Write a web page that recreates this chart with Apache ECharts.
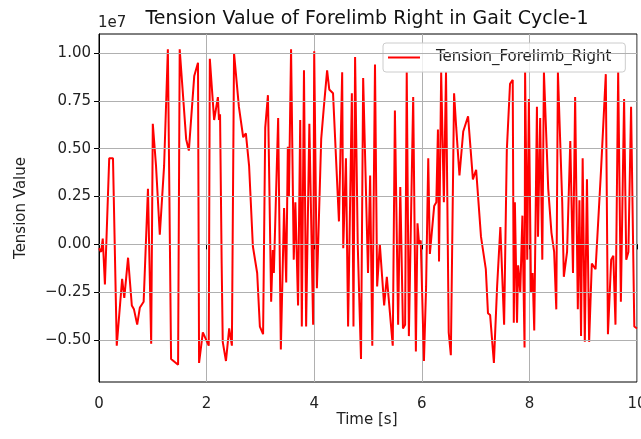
<!doctype html>
<html>
<head>
<meta charset="utf-8">
<title>Tension Value of Forelimb Right in Gait Cycle-1</title>
<style>
  html, body { margin: 0; padding: 0; background: #fff; }
  #main { width: 641px; height: 439px; }
</style>
</head>
<body>
<div id="main"></div>
<script src="https://cdn.jsdelivr.net/npm/echarts@6/dist/echarts.min.js"></script>
<script>
// time in seconds, tension in units of 1e7
var timeS = [
  0.00, 0.04, 0.07, 0.11, 0.19, 0.26, 0.33, 0.43, 0.47, 0.54, 0.61, 0.65, 0.71, 0.76, 0.83, 0.91, 0.97,
  1.00, 1.06, 1.13, 1.21, 1.28, 1.31, 1.34, 1.47, 1.50, 1.62, 1.67, 1.77, 1.84, 1.86, 1.93,
  2.04, 2.06, 2.14, 2.21, 2.23, 2.25, 2.28, 2.30, 2.36, 2.42, 2.47, 2.51, 2.60, 2.68, 2.73, 2.79, 2.86, 2.94, 2.99,
  3.05, 3.09, 3.14, 3.20, 3.23, 3.25, 3.33, 3.38, 3.44, 3.48, 3.51, 3.53, 3.57, 3.62, 3.65, 3.70, 3.74, 3.77, 3.81, 3.85, 3.91, 3.98,
  4.00, 4.05, 4.13, 4.18, 4.24, 4.28, 4.35, 4.46, 4.52, 4.54, 4.59, 4.63, 4.70, 4.73, 4.76, 4.81, 4.87, 4.91,
  5.00, 5.04, 5.08, 5.13, 5.17, 5.22, 5.30, 5.35, 5.46, 5.50, 5.56, 5.60, 5.65, 5.69, 5.72, 5.76, 5.84, 5.89, 5.92, 5.95, 5.98,
  6.04, 6.08, 6.12, 6.15, 6.23, 6.27, 6.30, 6.32, 6.36, 6.41, 6.45, 6.50, 6.54, 6.60, 6.64, 6.70, 6.77, 6.86, 6.95,
  7.01, 7.10, 7.19, 7.23, 7.27, 7.34, 7.40, 7.46, 7.53, 7.58, 7.64, 7.69, 7.71, 7.73, 7.77, 7.79, 7.83, 7.87, 7.91, 7.92, 7.96, 7.99,
  8.03, 8.06, 8.09, 8.14, 8.16, 8.20, 8.24, 8.27, 8.35, 8.41, 8.46, 8.50, 8.53, 8.61, 8.64, 8.70, 8.76, 8.81, 8.85, 8.90, 8.93, 8.96, 8.99,
  9.03, 9.07, 9.11, 9.16, 9.23, 9.33, 9.42, 9.46, 9.52, 9.56, 9.60, 9.65, 9.70, 9.76, 9.80, 9.84, 9.89, 9.95, 10.00
];
var tensionE7 = [
  -0.02, -0.04, 0.03, -0.21, 0.45, 0.45, -0.53, -0.18, -0.28, -0.07, -0.32, -0.34, -0.42, -0.33, -0.30, 0.29, -0.52,
  0.63, 0.41, 0.05, 0.41, 1.02, 1.02, -0.60, -0.63, 1.02, 0.55, 0.49, 0.88, 0.95, -0.62, -0.46,
  -0.53, 0.97, 0.65, 0.77, 0.65, 0.68, -0.10, -0.51, -0.61, -0.44, -0.53, 1.00, 0.72, 0.56, 0.58, 0.41, -0.01, -0.15, -0.43,
  -0.47, 0.61, 0.78, -0.30, -0.03, -0.15, 0.66, -0.55, 0.19, -0.20, 0.51, 0.25, 1.02, -0.08, 0.22, -0.32, 0.65, -0.43, 0.91, -0.43, 0.63, -0.42,
  1.01, -0.23, 0.55, 0.72, 0.91, 0.81, 0.79, 0.12, 0.90, -0.02, 0.45, -0.43, 0.79, -0.43, 0.98, -0.01, -0.60, 0.87,
  -0.15, 0.36, -0.53, 0.94, -0.22, 0.00, -0.32, -0.17, -0.53, 0.70, -0.42, 0.30, -0.44, -0.42, 0.90, -0.48, 0.77, -0.56, 0.11, 0.00, 0.02,
  -0.61, -0.22, 0.45, -0.05, 0.20, 0.22, 0.60, -0.09, 0.90, 0.22, 0.90, -0.46, -0.58, 0.79, 0.61, 0.36, 0.59, 0.67, 0.34,
  0.39, 0.04, -0.13, -0.36, -0.37, -0.62, -0.22, 0.09, -0.42, 0.49, 0.84, 0.86, -0.41, 0.22, -0.41, -0.11, -0.25, 0.15, -0.54, 0.90, -0.08, 0.76,
  -0.25, -0.15, -0.45, 0.72, 0.04, 0.66, -0.08, 0.90, 0.29, 0.06, -0.04, -0.34, 0.90, 0.22, -0.17, -0.04, 0.54, -0.15, 0.77, -0.34, 0.23, -0.48, 0.45,
  -0.51, 0.34, -0.51, -0.10, -0.13, 0.38, 0.89, -0.47, -0.08, -0.06, -0.42, 0.90, -0.30, 0.76, -0.08, -0.04, 0.72, -0.43, -0.44
];
var xTicks = [0, 2, 4, 6, 8, 10];
var yTicks = [-0.5, -0.25, 0, 0.25, 0.5, 0.75, 1.0];

var font = 'DejaVu Sans';
var pts = [];
for (var i = 0; i < timeS.length; i++) {
  pts.push([timeS[i], tensionE7[i]]);
}

var chart = echarts.init(document.getElementById('main'));

var option = {
  animation: false,
  backgroundColor: '#ffffff',
  textStyle: { fontFamily: font },
  grid: {
    left: 99, right: 4, top: 34, bottom: 57,
    outerBoundsMode: 'none', containLabel: false,
    show: true, borderColor: '#000', borderWidth: 1, backgroundColor: 'transparent'
  },
  graphic: [
    { type: 'text', x: 367, y: 19,
      style: { text: 'Tension Value of Forelimb Right in Gait Cycle-1', font: '19px "DejaVu Sans"',
               fill: '#111', align: 'center', verticalAlign: 'middle' } },
    { type: 'text', x: 98, y: 23,
      style: { text: '1e7', font: '15px "DejaVu Sans"', fill: '#222', align: 'left', verticalAlign: 'middle' } },
    { type: 'text', x: 21, y: 208, rotation: Math.PI / 2,
      style: { text: 'Tension Value', font: '15px "DejaVu Sans"', fill: '#222', align: 'center', verticalAlign: 'middle' } },
    { type: 'text', x: 367, y: 420,
      style: { text: 'Time [s]', font: '15px "DejaVu Sans"', fill: '#222', align: 'center', verticalAlign: 'middle' } }
  ],
  legend: {
    data: ['Tension_Forelimb_Right'],
    left: 383, top: 43,
    orient: 'vertical',
    padding: [7, 14, 7, 5],
    icon: 'rect',
    itemWidth: 32, itemHeight: 2,
    backgroundColor: 'rgba(255,255,255,0.8)',
    borderColor: '#cccccc', borderWidth: 1, borderRadius: 3,
    textStyle: { fontFamily: font, fontSize: 15, color: '#222', padding: [0, 0, 0, 11] }
  },
  xAxis: {
    type: 'value', min: 0, max: 10, interval: 2,
    axisLine: { show: true, lineStyle: { color: '#000', width: 1 } },
    axisTick: { show: true, length: 5, lineStyle: { color: '#000' } },
    axisLabel: { fontSize: 15, color: '#222', margin: 15, customValues: xTicks },
    splitLine: { show: true, lineStyle: { color: '#b0b0b0', width: 1 } }
  },
  yAxis: {
    type: 'value', min: -0.72, max: 1.10,
    axisLine: { show: true, lineStyle: { color: '#000', width: 1 } },
    axisTick: { show: true, length: 5, customValues: yTicks, lineStyle: { color: '#000' } },
    axisLabel: {
      fontSize: 15, color: '#222', margin: 8, customValues: yTicks,
      formatter: function (v) { return v.toFixed(2).replace('-', '\u2212'); }
    },
    splitLine: { show: false }
  },
  series: [
    {
      // horizontal grid lines at the y tick values
      type: 'line', data: [], z: 1, silent: true,
      markLine: {
        silent: true, symbol: ['none', 'none'], label: { show: false },
        lineStyle: { color: '#b0b0b0', width: 1, type: 'solid' },
        data: yTicks.map(function (v) { return { yAxis: v }; })
      }
    },
    {
      name: 'Tension_Forelimb_Right',
      type: 'line', z: 3,
      data: pts,
      symbol: 'none', showSymbol: false,
      lineStyle: { color: '#ff0000', width: 2 },
      itemStyle: { color: '#ff0000' }
    }
  ]
};

chart.setOption(option);
</script>
</body>
</html>
